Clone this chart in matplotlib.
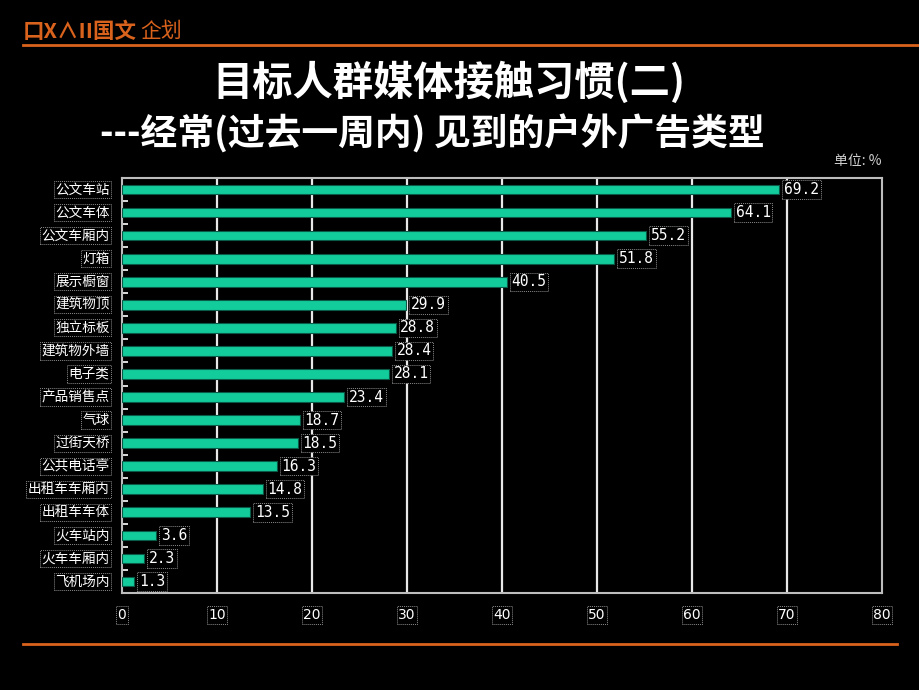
import matplotlib
matplotlib.use("Agg")
import matplotlib.pyplot as plt
from matplotlib.lines import Line2D
from matplotlib.ticker import MultipleLocator

plt.rcParams['font.family'] = ['Noto Sans CJK SC', 'DejaVu Sans']

# --- data ---
categories = ["公文车站", "公文车体", "公文车厢内", "灯箱", "展示橱窗", "建筑物顶",
              "独立标板", "建筑物外墙", "电子类", "产品销售点", "气球", "过街天桥",
              "公共电话亭", "出租车车厢内", "出租车车体", "火车站内", "火车车厢内", "飞机场内"]
values = [69.2, 64.1, 55.2, 51.8, 40.5, 29.9, 28.8, 28.4, 28.1, 23.4, 18.7, 18.5,
          16.3, 14.8, 13.5, 3.6, 2.3, 1.3]
x_ticks = [0, 10, 20, 30, 40, 50, 60, 70, 80]

TITLE_1 = "目标人群媒体接触习惯(二)"
TITLE_2 = "---经常(过去一周内) 见到的户外广告类型"
UNIT = "单位: %"

BAR_COLOR = "#12cc9c"
ORANGE = "#d9621c"

W, H = 920, 690
fig = plt.figure(figsize=(W / 100, H / 100), dpi=100, facecolor="black")

# axes placed in pixel terms of the reference
left, right, top, bottom = 122, 882, 178, 593
ax = fig.add_axes([left / W, 1 - bottom / H, (right - left) / W, (bottom - top) / H])
ax.set_facecolor("black")

n = len(categories)
ypos = list(range(n))
ax.set_xlim(0, 80)
ax.set_ylim(n - 0.5, -0.5)

# vertical grid behind the bars
for xv in x_ticks[1:-1]:
    ax.axvline(xv, color="#e8e8e8", lw=1.6, zorder=1)

ax.barh(ypos, values, height=0.42, color=BAR_COLOR, edgecolor="#0a5a48", lw=0.8, zorder=3)

box = dict(boxstyle="square,pad=0.12", fc="black", ec="#8a8a8a", ls=(0, (1, 1)), lw=0.7)
for y, v in zip(ypos, values):
    ax.text(v + 0.5, y, f"{v:.1f}", color="white", fontsize=10.5, va="center", ha="left",
            family=["DejaVu Sans Mono"], bbox=box, zorder=4)

ax.set_yticks(ypos)
ax.set_yticklabels([])
for y, c in zip(ypos, categories):
    ax.text(-1.3, y, c, color="white", fontsize=9.8, fontweight="light", va="center",
            ha="right", bbox=box, clip_on=False)
ax.yaxis.set_minor_locator(MultipleLocator(1, offset=0.5))
ax.tick_params(axis="y", which="major", length=0)
ax.tick_params(axis="y", which="minor", direction="in", length=4, color="white", width=1.2)

ax.set_xticks(x_ticks)
ax.set_xticklabels([])
ax.tick_params(axis="x", length=0)
for xv in x_ticks:
    ax.text(xv, n - 0.5 + 0.95, str(xv), color="white", fontsize=10, va="center", ha="center",
            family=["DejaVu Sans"], bbox=box, clip_on=False)

for s in ax.spines.values():
    s.set_color("#bdbdbd")
    s.set_linewidth(1.5)

# titles
fig.text(449 / W, 1 - 83 / H, TITLE_1, color="white", fontsize=29, fontweight="bold",
         ha="center", va="center")
fig.text(432 / W, 1 - 134 / H, TITLE_2, color="white", fontsize=26.5, fontweight="bold",
         ha="center", va="center")
fig.text(882 / W, 1 - 161 / H, UNIT, color="#d0d0d0", fontsize=10, ha="right", va="center")

# logo and orange rules
fig.text(23 / W, 1 - 31 / H, "口X∧II国文", color=ORANGE, fontsize=15.5, fontweight="bold",
         ha="left", va="center")
fig.text(140 / W, 1 - 31 / H, "企划", color=ORANGE, fontsize=15, ha="left", va="center")
fig.add_artist(Line2D([23 / W, 1.0], [1 - 45 / H] * 2, color=ORANGE, lw=2))
fig.add_artist(Line2D([23 / W, 897 / W], [1 - 644 / H] * 2, color=ORANGE, lw=2))

fig.savefig("out.png", dpi=100, facecolor="black")
